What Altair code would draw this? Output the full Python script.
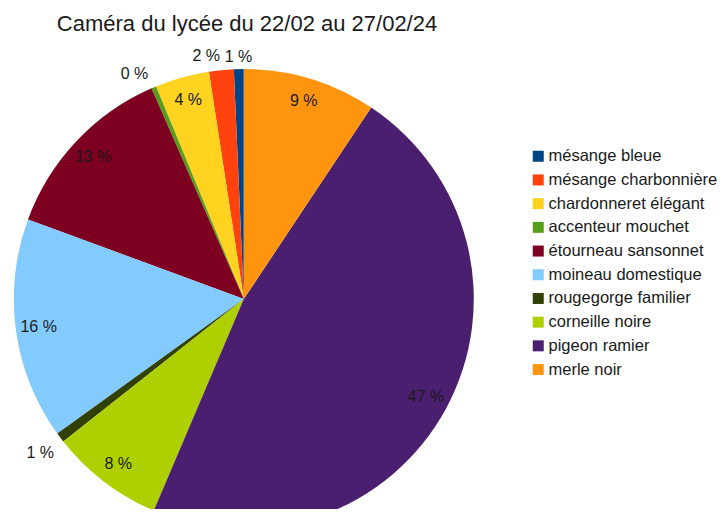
import altair as alt
import pandas as pd

# Legend order (as in the reference legend)
species = ["mésange bleue", "mésange charbonnière", "chardonneret élégant",
           "accenteur mouchet", "étourneau sansonnet", "moineau domestique",
           "rougegorge familier", "corneille noire", "pigeon ramier", "merle noir"]
counts = [2, 5, 11, 1, 37, 45, 2, 23, 136, 27]
colors = ["#004586", "#ff420e", "#ffd320", "#579d1c", "#7e0021",
          "#83caff", "#314004", "#aecf00", "#4b1f6f", "#ff950e"]
title_text = "Caméra du lycée du 22/02 au 27/02/24"

df = pd.DataFrame({"espece": species, "n": counts, "idx": list(range(len(species)))})

FONT = "Liberation Sans"
CX, CY = 235.8, 251
R = 230

base = alt.Chart(df).transform_joinaggregate(
    total="sum(n)"
).transform_window(
    cum="sum(n)", sort=[alt.SortField("idx", order="descending")], frame=[None, 0]
).transform_calculate(
    f0="(datum.cum - datum.n) / datum.total",
    f1="datum.cum / datum.total",
    fm="(datum.cum - datum.n / 2) / datum.total",
    frac="datum.n / datum.total",
    lab="format(datum.n / datum.total * 100, '.0f') + ' %'"
)

theta_scale = alt.Scale(domain=[0, 1], range=[0, 6.283185307179586])

color_enc = alt.Color(
    "espece:N",
    scale=alt.Scale(domain=species, range=colors),
    legend=alt.Legend(
        title=None, orient="none", legendX=522, legendY=100,
        symbolType="square", symbolSize=121, symbolStrokeWidth=0,
        labelFont=FONT, labelFontSize=16.5, labelColor="#1a1a1a",
        labelOffset=2, rowPadding=6.7, padding=0, labelLimit=300
    ),
)

arcs = base.mark_arc(outerRadius=R, stroke=None).encode(
    theta=alt.Theta("f0:Q", scale=theta_scale),
    theta2="f1:Q",
    x=alt.value(CX), y=alt.value(CY),
    color=color_enc,
)

def labels(cond, radius, align):
    return base.transform_filter(cond).mark_text(
        font=FONT, fontSize=16, color="#1a1a1a", align=align, baseline="middle"
    ).encode(
        theta=alt.Theta("fm:Q", scale=theta_scale),
        radius=alt.value(radius),
        x=alt.value(CX), y=alt.value(CY),
        text="lab:N",
    )

inside = labels("datum.frac >= 0.03", 207, "center")
out_left = labels("datum.frac < 0.03 && datum.fm > 0.75 && datum.fm < 0.99", 244, "right")
out_top = labels("datum.frac < 0.03 && datum.fm >= 0.99", 242, "center")
out_low = labels("datum.frac < 0.03 && datum.fm <= 0.75", 255, "center")

chart = alt.layer(arcs, inside, out_left, out_top, out_low).properties(
    width=478, height=461,
    autosize=alt.AutoSizeParams(type="none"),
    padding={"top": 40, "left": 0, "right": 233, "bottom": 0},
    title=alt.TitleParams(title_text, font=FONT, fontSize=22, fontWeight="normal",
                          color="#1a1a1a", anchor="middle", dy=-8),
).configure_view(stroke=None)

chart.save("out.html", embed_options={"renderer": "svg", "actions": False})
